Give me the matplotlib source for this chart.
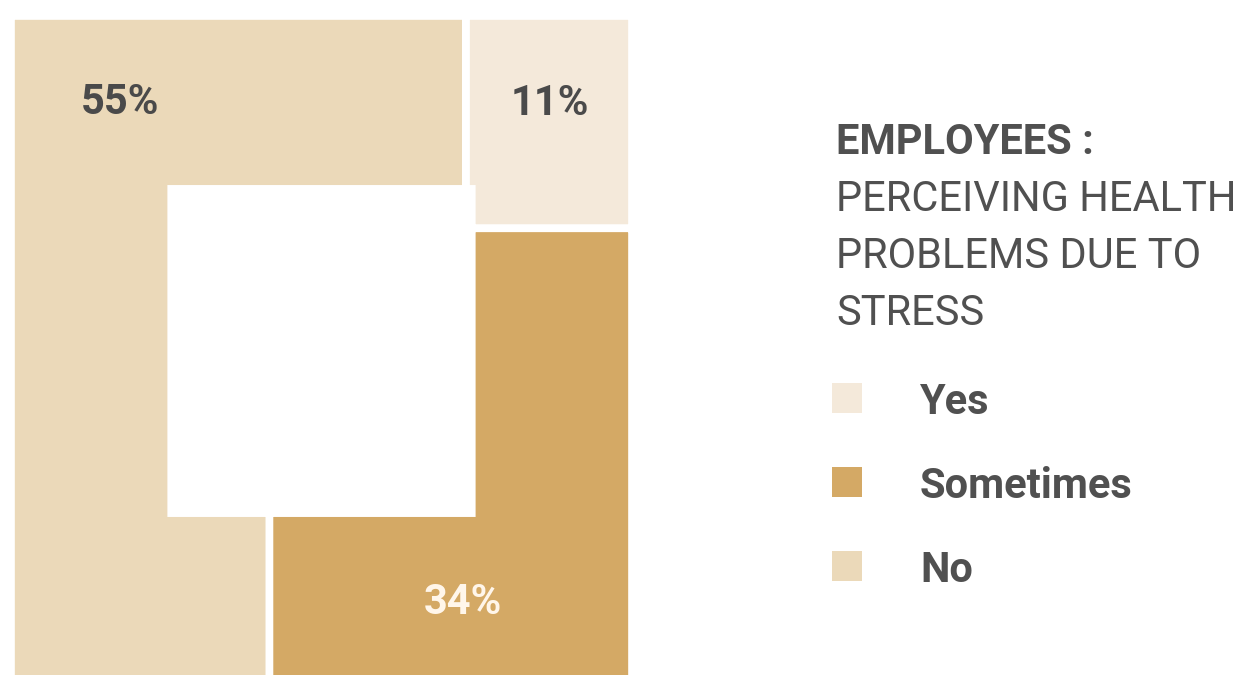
import numpy as np
import matplotlib
matplotlib.use("Agg")
import matplotlib.pyplot as plt
from matplotlib.patches import Polygon, Rectangle

# ---------------- data ----------------
categories = ["Yes", "Sometimes", "No"]
values = [11, 34, 55]
colors = ["#F4E9DA", "#D4A965", "#EBD9B9"]
title_bold = "EMPLOYEES :"
title_lines = ["PERCEIVING HEALTH", "PROBLEMS DUE TO", "STRESS"]

# ---------------- style ----------------
FONT = "Roboto"
TXT = "#505050"
T = 0.258           # ring thickness (fraction of square)
START = 0.2033      # where the first slice starts (fraction of perimeter, clockwise from top-left)
label_pos = [(0.868, 0.869), (0.728, 0.124), (0.1755, 0.8716)]   # axes fraction, same order as categories
label_col = ["#4a4a4a", "#FFF6EA", "#4a4a4a"]

plt.rcParams["font.family"] = [FONT, "DejaVu Sans"]

W, H = 1246, 675
fig = plt.figure(figsize=(W / 100, H / 100), dpi=100)
ax = fig.add_axes([11 / W, (H - 686) / H, 621 / W, 670 / H])
ax.set_xlim(0, 1)
ax.set_ylim(0, 1)
ax.axis("off")

# key points of a square ring, walked clockwise along its centre line
h = T / 2
L = 1 - T
ks = np.array([0, h, L - h, L, L + h, 2 * L - h, 2 * L, 2 * L + h,
               3 * L - h, 3 * L, 3 * L + h, 4 * L - h, 4 * L])
outer = np.array([(0, 1), (T, 1), (1 - T, 1), (1, 1), (1, 1 - T), (1, T), (1, 0),
                  (1 - T, 0), (T, 0), (0, 0), (0, T), (0, 1 - T), (0, 1)])
inner = np.array([(T, 1 - T), (T, 1 - T), (1 - T, 1 - T), (1 - T, 1 - T), (1 - T, 1 - T),
                  (1 - T, T), (1 - T, T), (1 - T, T), (T, T), (T, T), (T, T),
                  (T, 1 - T), (T, 1 - T)])
P = 4 * L


def ring_slice(a, b):
    s = np.linspace(a, b, 600)
    ox = np.interp(s, ks, outer[:, 0], period=P)
    oy = np.interp(s, ks, outer[:, 1], period=P)
    ix = np.interp(s, ks, inner[:, 0], period=P)
    iy = np.interp(s, ks, inner[:, 1], period=P)
    return np.vstack([np.column_stack([ox, oy]), np.column_stack([ix, iy])[::-1]])


total = float(sum(values))
pos = START * P
for val, col in zip(values, colors):
    span = val / total * P
    ax.add_patch(Polygon(ring_slice(pos, pos + span), closed=True, facecolor=col,
                         edgecolor="white", linewidth=5.5, joinstyle="miter"))
    pos += span

for val, (lx, ly), lc in zip(values, label_pos, label_col):
    ax.text(lx, ly, f"{val}%", transform=ax.transAxes, ha="center", va="center",
            fontsize=30, fontweight="bold", color=lc)

# ---------------- title block ----------------
tx = 836 / W
fig.text(tx, 1 - 154 / H, title_bold, fontsize=30, fontweight="bold", color=TXT, va="baseline")
for i, line in enumerate(title_lines):
    fig.text(tx, 1 - (211 + 57 * i) / H, line, fontsize=30, color=TXT, va="baseline")

# ---------------- legend ----------------
for i, (cat, col) in enumerate(zip(categories, colors)):
    cy = 398 + 84 * i
    fig.patches.append(Rectangle((832 / W, 1 - (cy + 15) / H), 30 / W, 30 / H,
                                 transform=fig.transFigure, facecolor=col, edgecolor="none"))
    fig.text(920 / W, 1 - (cy + 16) / H, cat, fontsize=30, fontweight="bold",
             color=TXT, va="baseline")

fig.savefig("out.png", dpi=100, facecolor="white")
